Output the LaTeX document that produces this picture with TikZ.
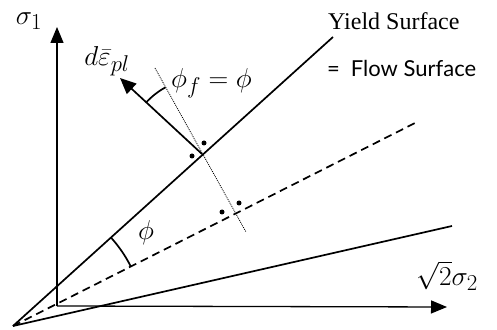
\documentclass[tikz,border=0pt]{standalone}
\usepackage{fontspec}
\setmainfont{Liberation Serif}
\newfontfamily\flowfont{Lato}
\usetikzlibrary{arrows.meta}
\begin{document}
\begin{tikzpicture}[x=1pt,y=1pt,
  axis/.style={line width=1.3pt,-{Triangle[length=16pt,width=13pt]}},
  surf/.style={line width=1.7pt},
  lbl/.style={inner sep=0pt,font=\fontsize{24}{28}\selectfont},
  mlbl/.style={inner sep=0pt,font=\Huge,scale=1.1,transform shape},
  dotpt/.style={circle,fill,inner sep=0pt,minimum size=5pt}]
\useasboundingbox (0,0) rectangle (497,329);
\coordinate (O) at (13,3);
\coordinate (A) at (57,23);
\coordinate (V) at (57,302);
\coordinate (H) at (447,22);
\coordinate (Y) at (333,292);
\coordinate (D) at (417,207);
\coordinate (L) at (452,103);
\coordinate (P) at (202,175);
\coordinate (N) at (120,251);
\coordinate (Q1) at (155,261);
\coordinate (Q2) at (246,97);
% axes
\draw[axis] (A) -- (V);
\draw[axis] (A) -- (H);
% surfaces
\draw[surf] (O) -- (Y);
\draw[surf,dash pattern=on 8pt off 5pt] (O) -- (D);
\draw[surf] (O) -- (L);
% normal
\draw[surf,-{Triangle[length=16pt,width=14pt]}] (P) -- (N);
\draw[line width=0.8pt,dash pattern=on 1pt off 1pt] (Q1) -- (Q2);
% arcs
\draw[surf] (O) ++(42.1:132) arc[start angle=42.1,end angle=26.8,radius=132];
\draw[surf] (P) ++(118.7:76) arc[start angle=118.7,end angle=137.5,radius=76];
% right-angle dots
\node[dotpt] (d1) at (192,173) {};
\node[dotpt] (d2) at (204,186) {};
\node[dotpt] (d3) at (222,117) {};
\node[dotpt] (d4) at (239,126) {};
% labels
\node[mlbl] (s1) at (29,308) {$\sigma_1$};
\node[mlbl] (de) at (107,268) {$d\bar{\varepsilon}_{pl}$};
\node[mlbl,anchor=west] (pf) at (171,246) {$\phi_f = \phi$};
\node[mlbl] (ph) at (146,96) {$\phi$};
\node[lbl,anchor=west] (ys) at (328,308) {Yield Surface};
\node[lbl,anchor=west,font=\flowfont\fontsize{22}{26}\selectfont] (fs) at (327,261) {=\enspace Flow Surface};
\node[mlbl] (s2) at (447,53) {$\sqrt{2}\sigma_2$};
\end{tikzpicture}
\end{document}
